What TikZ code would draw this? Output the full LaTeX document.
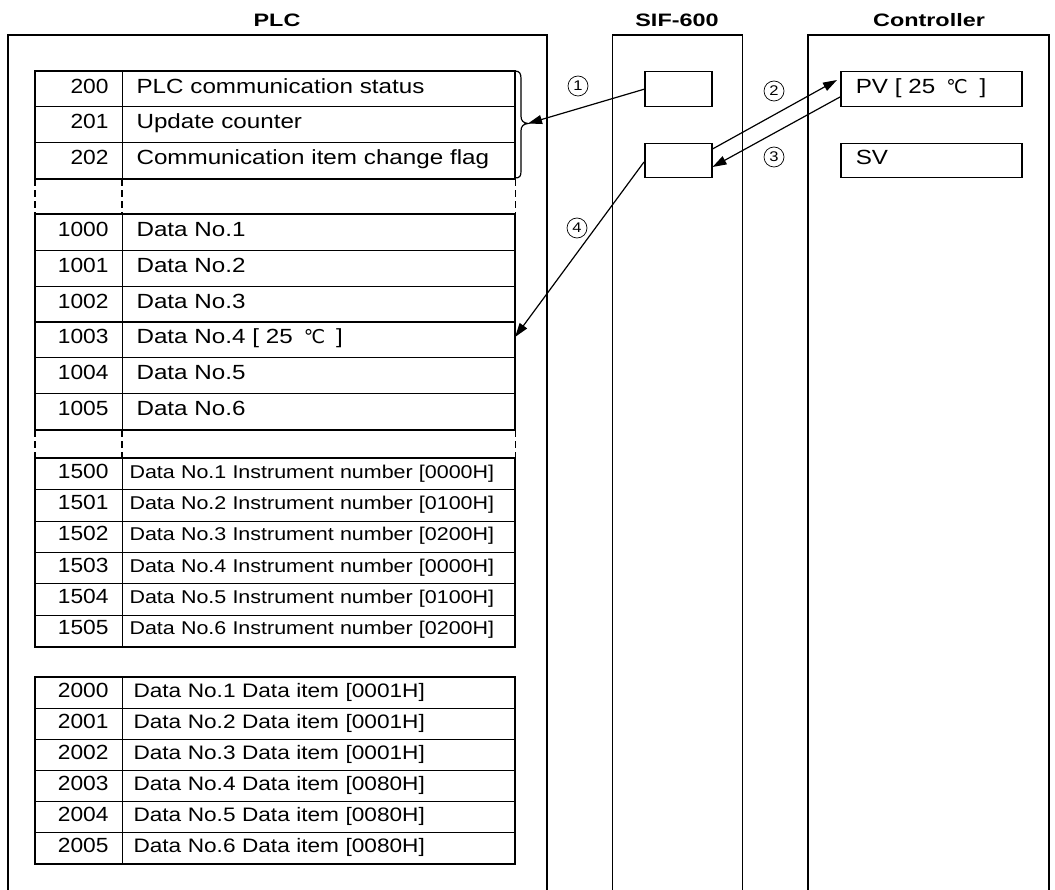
\documentclass[tikz,border=0pt]{standalone}
\usepackage{fontspec}
\setmainfont[FakeStretch=1.18]{Liberation Sans}
\newfontfamily\numfont[FakeStretch=1.11]{Liberation Sans}
\newfontfamily\condfont[FakeStretch=1.16]{Liberation Sans}
\newfontfamily\titlefont[FakeStretch=1.3]{Liberation Sans}
\newfontfamily\symfont{DejaVu Sans}
\usetikzlibrary{arrows.meta}
\newcommand\mydegc{{\symfont\fontsize{19}{19}\selectfont ℃}}
\newcommand\tabrow[6]{%
  \node[numcell, minimum height=#3pt] (#1n) at (35,#2) {#4};
  \node[#6, minimum height=#3pt] (#1t) at (122,#2) {#5};
}
\tikzset{
  numcell/.style={draw, line width=1.1pt, anchor=north west, inner xsep=14pt, inner ysep=0pt,
    text width=59pt, align=right, text height=11pt, text depth=3pt, font=\numfont\fontsize{20.5}{21}\selectfont},
  cellA/.style={draw, line width=1.1pt, anchor=north west, inner xsep=14pt, inner ysep=0pt,
    text width=364pt, align=left, text height=11pt, text depth=3pt, font=\fontsize{20.5}{21}\selectfont},
  cellB/.style={cellA, inner xsep=7pt, text width=378pt, font=\condfont\fontsize{18.5}{19}\selectfont},
  cellC/.style={cellA, inner xsep=11pt, text width=370pt, font=\condfont\fontsize{19.5}{20}\selectfont},
  frame/.style={line width=1.7pt},
  dashline/.style={line width=1.2pt, dash pattern=on 7pt off 4pt},
  title/.style={inner sep=0pt, text height=13pt, text depth=0pt, font=\titlefont\bfseries\fontsize{18}{18}\selectfont},
  emptybox/.style={draw, line width=1.5pt, anchor=north west, inner sep=0pt, minimum width=67pt},
  valbox/.style={draw, line width=1.5pt, anchor=north west, inner xsep=15pt, inner ysep=0pt,
    text width=151pt, align=left, text height=11pt, text depth=3pt, font=\fontsize{20.5}{21}\selectfont},
  circnum/.style={circle, draw, line width=0.7pt, minimum size=20pt, inner sep=0pt, font=\fontsize{14}{14}\selectfont},
  arr/.style={-{Triangle[length=14pt,width=9pt]}, line width=1.2pt},
}
\begin{document}
\begin{tikzpicture}[x=1pt,y=-1pt]
\useasboundingbox (0,0) rectangle (1055,890);
% titles
\node[title] (tplc) at (277,20.5) {PLC};
\node[title] (tsif) at (677,20.5) {SIF-600};
\node[title] (tctl) at (929,20.5) {Controller};
% panels (open at the bottom)
\draw[line width=2.3pt] (8,892) -- (8,35) -- (547,35) -- (547,892);
\draw[line width=1pt] (612,892) -- (612,35) -- (742,35) -- (742,892);
\draw[line width=2pt] (612,35) -- (742,35);
\draw[line width=1.7pt] (808,892) -- (808,35) -- (1049,35) -- (1049,892);
% table 1
\tabrow{r200}{71}{35}{200}{PLC communication status}{cellA}
\tabrow{r201}{106}{36}{201}{Update counter}{cellA}
\tabrow{r202}{142}{36}{202}{Communication item change flag}{cellA}
\draw[frame] (r200n.north west) rectangle (r202t.south east);
% table 2
\tabrow{r1000}{214}{35.83}{1000}{Data No.1}{cellA}
\tabrow{r1001}{249.83}{35.83}{1001}{Data No.2}{cellA}
\tabrow{r1002}{285.67}{35.83}{1002}{Data No.3}{cellA}
\tabrow{r1003}{321.5}{35.83}{1003}{Data No.4 [ 25\hspace{11pt}\mydegc\hspace{11pt}]}{cellA}
\tabrow{r1004}{357.33}{35.83}{1004}{Data No.5}{cellA}
\tabrow{r1005}{393.17}{35.83}{1005}{Data No.6}{cellA}
\draw[frame] (r1000n.north west) rectangle (r1005t.south east);
% table 3
\tabrow{r1500}{458}{31.33}{1500}{Data No.1 Instrument number [0000H]}{cellB}
\tabrow{r1501}{489.33}{31.33}{1501}{Data No.2 Instrument number [0100H]}{cellB}
\tabrow{r1502}{520.67}{31.33}{1502}{Data No.3 Instrument number [0200H]}{cellB}
\tabrow{r1503}{552}{31.33}{1503}{Data No.4 Instrument number [0000H]}{cellB}
\tabrow{r1504}{583.33}{31.33}{1504}{Data No.5 Instrument number [0100H]}{cellB}
\tabrow{r1505}{614.67}{31.33}{1505}{Data No.6 Instrument number [0200H]}{cellB}
\draw[frame] (r1500n.north west) rectangle (r1505t.south east);
% table 4
\tabrow{r2000}{677}{31}{2000}{Data No.1 Data item [0001H]}{cellC}
\tabrow{r2001}{708}{31}{2001}{Data No.2 Data item [0001H]}{cellC}
\tabrow{r2002}{739}{31}{2002}{Data No.3 Data item [0001H]}{cellC}
\tabrow{r2003}{770}{31}{2003}{Data No.4 Data item [0080H]}{cellC}
\tabrow{r2004}{801}{31}{2004}{Data No.5 Data item [0080H]}{cellC}
\tabrow{r2005}{832}{31}{2005}{Data No.6 Data item [0080H]}{cellC}
\draw[frame] (r2000n.north west) rectangle (r2005t.south east);
% dashed continuation lines
\draw[dashline] (r202n.south west) -- (r1000n.north west);
\draw[dashline] (r202t.south west) -- (r1000t.north west);
\draw[dashline] (r202t.south east) -- (r1000t.north east);
\draw[dashline] (r1005n.south west) -- (r1500n.north west);
\draw[dashline] (r1005t.south west) -- (r1500t.north west);
\draw[dashline] (r1005t.south east) -- (r1500t.north east);
% brace
\coordinate (bracetip) at (528,123.5);
\draw[line width=1.2pt] (515,71) .. controls (520,71) and (521,74) .. (521,79)
  -- (521,116) .. controls (521,120.5) and (523,123) .. (bracetip)
  .. controls (523,124) and (521,126.5) .. (521,131)
  -- (521,171) .. controls (521,176) and (520,178) .. (515,178);
% SIF-600 boxes
\node[emptybox, minimum height=35pt] (box1) at (644,71) {};
\node[emptybox, minimum height=34pt] (box2) at (644,143) {};
% controller boxes
\node[valbox, minimum height=35pt] (pv) at (840,71) {PV [ 25\hspace{11pt}\mydegc\hspace{12pt}]};
\node[valbox, minimum height=34pt] (sv) at (840,143) {SV};
% step numbers
\node[circnum] (c1) at (578,86) {1};
\node[circnum] (c2) at (774,91) {2};
\node[circnum] (c3) at (774,157) {3};
\node[circnum] (c4) at (577,228) {4};
% arrows
\draw[arr] (box1.west) -- (bracetip);
\draw[arr] ([yshift=-6pt]box2.north east) -- ([xshift=-3pt,yshift=-9pt]pv.north west);
\draw[arr] ([yshift=-26pt]pv.north west) -- ([yshift=-24pt]box2.north east);
\draw[arr] ([yshift=-19pt]box2.north west) -- ([yshift=3pt]r1003t.east);
\end{tikzpicture}
\end{document}
